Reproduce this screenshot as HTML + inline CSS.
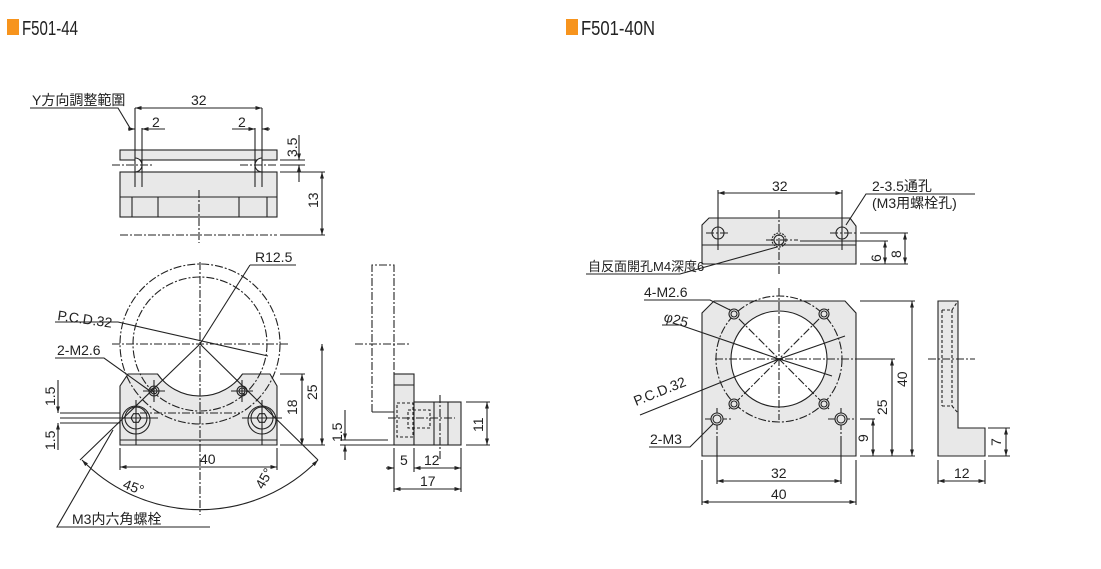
<!DOCTYPE html>
<html><head><meta charset="utf-8"><style>
html,body{margin:0;padding:0;background:#fff}
svg{display:block}
text{font-family:"Liberation Sans Narrow","Liberation Sans","Noto Sans CJK JP",sans-serif;fill:#222}
.t{font-size:14px}
</style></head><body>
<svg width="1101" height="569" viewBox="0 0 1101 569" xmlns="http://www.w3.org/2000/svg">
<defs><marker id="a" viewBox="0 0 10 10" refX="10" refY="5" markerWidth="6" markerHeight="6" orient="auto-start-reverse"><path d="M0,2L10,5L0,8z" fill="#222"/></marker></defs>
<rect x="7" y="19" width="12" height="16" fill="#f7941d"/>
<text x="22" y="35" font-size="20" textLength="56" lengthAdjust="spacingAndGlyphs">F501-44</text>
<rect x="566" y="19" width="12" height="16" fill="#f7941d"/>
<text x="581" y="35" font-size="20" textLength="74" lengthAdjust="spacingAndGlyphs">F501-40N</text>

<g stroke="#222" stroke-width="1.1" fill="none">
<!-- LEFT TOP VIEW -->
<rect x="120" y="150" width="157" height="10" fill="#e8e8e8"/>
<rect x="120" y="172" width="157" height="45" fill="#e8e8e8"/>
<line x1="120" y1="197" x2="277" y2="197"/>
<line x1="132" y1="197" x2="132" y2="217"/><line x1="158" y1="197" x2="158" y2="217"/>
<line x1="239" y1="197" x2="239" y2="217"/><line x1="267" y1="197" x2="267" y2="217"/>
<path d="M135,158 A7,7 0 0 1 135,172" fill="#fff"/>
<path d="M262,158 A7,7 0 0 0 262,172" fill="#fff"/>
<g stroke-dasharray="8,2,2,2">
<line x1="112" y1="165" x2="153" y2="165"/><line x1="240" y1="165" x2="278" y2="165"/>
<line x1="199" y1="190" x2="199" y2="243"/>
<line x1="120" y1="235" x2="277" y2="235"/>
</g>
<line x1="135" y1="108" x2="135" y2="187"/><line x1="142" y1="128" x2="142" y2="187"/>
<line x1="255" y1="128" x2="255" y2="187"/><line x1="262" y1="108" x2="262" y2="187"/>
<line x1="135" y1="108" x2="262" y2="108" marker-start="url(#a)" marker-end="url(#a)"/>
<line x1="128" y1="129" x2="135" y2="129" marker-end="url(#a)"/><line x1="165" y1="129" x2="142" y2="129" marker-end="url(#a)"/>
<line x1="232" y1="129" x2="255" y2="129" marker-end="url(#a)"/><line x1="270" y1="129" x2="262" y2="129" marker-end="url(#a)"/>
<polyline points="30,108 118,108 130,128"/>
<line x1="280" y1="160" x2="305" y2="160"/><line x1="280" y1="165" x2="305" y2="165"/><line x1="280" y1="172" x2="325" y2="172"/><line x1="280" y1="235" x2="325" y2="235"/>
<line x1="299" y1="135" x2="299" y2="160" marker-end="url(#a)"/><line x1="299" y1="182" x2="299" y2="165" marker-end="url(#a)"/>
<line x1="322" y1="172" x2="322" y2="235" marker-start="url(#a)" marker-end="url(#a)"/>

<!-- LEFT FRONT VIEW -->
<path d="M128,374 L157.5,374 A52,52 0 0 0 242.5,374 L270,374 L277,386 L277,445 L120,445 L120,386 Z" fill="#e8e8e8"/>
<line x1="120" y1="440" x2="277" y2="440"/>
<g stroke-dasharray="8,2,2,2">
<circle cx="200" cy="344" r="80"/><circle cx="200" cy="344" r="67"/>
<line x1="112" y1="344" x2="290" y2="344"/><line x1="200" y1="262" x2="200" y2="515"/>
<line x1="140" y1="413" x2="240" y2="413"/>
</g>
<circle cx="154" cy="391" r="5"/><circle cx="154" cy="391" r="3"/>
<circle cx="242" cy="391" r="5"/><circle cx="242" cy="391" r="3"/>
<line x1="143" y1="391" x2="165" y2="391"/><line x1="154" y1="380" x2="154" y2="402"/>
<line x1="231" y1="391" x2="253" y2="391"/><line x1="242" y1="380" x2="242" y2="402"/>
<circle cx="136" cy="418" r="11"/><circle cx="136" cy="420" r="14"/><polygon points="141,418 138.5,422.3 133.5,422.3 131,418 133.5,413.7 138.5,413.7"/>
<circle cx="262" cy="418" r="11"/><circle cx="262" cy="420" r="14"/><polygon points="267,418 264.5,422.3 259.5,422.3 257,418 259.5,413.7 264.5,413.7"/>
<line x1="116" y1="418" x2="158" y2="418"/><line x1="136" y1="400" x2="136" y2="445"/>
<line x1="242" y1="418" x2="282" y2="418"/><line x1="262" y1="400" x2="262" y2="445"/>
<line x1="200" y1="344" x2="80" y2="460"/><line x1="200" y1="344" x2="318" y2="460"/>
<line x1="200" y1="344" x2="250" y2="265"/><line x1="250" y1="265" x2="296" y2="265"/>
<polyline points="55,322 118,322 268,356"/>
<polyline points="55,358 104,358 150,391"/>
<path d="M82,460 A165,165 0 0 0 318,460" marker-start="url(#a)" marker-end="url(#a)"/>
<polyline points="210,527 57,527 113,430"/>
<line x1="60" y1="413" x2="120" y2="413"/><line x1="60" y1="418" x2="120" y2="418"/><line x1="60" y1="423" x2="120" y2="423"/>
<line x1="58" y1="380" x2="58" y2="413" marker-end="url(#a)"/><line x1="58" y1="450" x2="58" y2="423" marker-end="url(#a)"/>
<line x1="280" y1="374" x2="305" y2="374"/><line x1="280" y1="445" x2="325" y2="445"/>
<line x1="302" y1="374" x2="302" y2="445" marker-start="url(#a)" marker-end="url(#a)"/>
<line x1="322" y1="344" x2="322" y2="445" marker-start="url(#a)" marker-end="url(#a)"/>
<line x1="120" y1="448" x2="120" y2="470"/><line x1="277" y1="448" x2="277" y2="470"/>
<line x1="120" y1="467" x2="277" y2="467" marker-start="url(#a)" marker-end="url(#a)"/>

<!-- SIDE VIEW -->
<path d="M372,412 L372,265 L394,265 L394,374" stroke-dasharray="8,2,2,2"/>
<line x1="372" y1="412" x2="394" y2="412"/>
<rect x="394" y="374" width="20" height="71" fill="#e8e8e8"/>
<line x1="394" y1="385" x2="414" y2="385"/>
<rect x="414" y="402" width="47" height="43" fill="#e8e8e8"/>
<line x1="434" y1="402" x2="434" y2="445"/><line x1="448" y1="402" x2="448" y2="445"/>
<g stroke-dasharray="3,2"><rect x="397" y="403" width="16" height="34"/><rect x="408" y="410" width="22" height="18"/></g>
<g stroke-dasharray="8,2,2,2"><line x1="355" y1="344" x2="410" y2="344"/><line x1="388" y1="418" x2="455" y2="418"/><line x1="440" y1="395" x2="440" y2="460"/></g>
<line x1="340" y1="440" x2="388" y2="440"/><line x1="340" y1="445" x2="394" y2="445"/>
<line x1="345" y1="410" x2="345" y2="440" marker-end="url(#a)"/><line x1="345" y1="460" x2="345" y2="445" marker-end="url(#a)"/>
<line x1="466" y1="402" x2="490" y2="402"/><line x1="466" y1="445" x2="490" y2="445"/>
<line x1="487" y1="402" x2="487" y2="445" marker-start="url(#a)" marker-end="url(#a)"/>
<line x1="394" y1="448" x2="394" y2="492"/><line x1="414" y1="448" x2="414" y2="472"/><line x1="461" y1="448" x2="461" y2="492"/>
<line x1="386" y1="468" x2="394" y2="468" marker-end="url(#a)"/><line x1="414" y1="468" x2="461" y2="468" marker-start="url(#a)" marker-end="url(#a)"/>
<line x1="394" y1="489" x2="461" y2="489" marker-start="url(#a)" marker-end="url(#a)"/>

<!-- RIGHT TOP VIEW -->
<path d="M709,218 L850,218 L856,226 L856,264 L702,264 L702,225 Z" fill="#e8e8e8"/>
<line x1="702" y1="245" x2="856" y2="245"/>
<circle cx="718" cy="233" r="6"/><circle cx="842" cy="233" r="6"/>
<circle cx="779" cy="240" r="7" stroke-dasharray="2,1"/><circle cx="779" cy="240" r="5"/>
<g stroke-dasharray="8,2,2,2"><line x1="779" y1="210" x2="779" y2="275"/><line x1="706" y1="233" x2="730" y2="233"/><line x1="830" y1="233" x2="856" y2="233"/><line x1="766" y1="240" x2="798" y2="240"/></g>
<line x1="718" y1="190" x2="718" y2="250"/><line x1="842" y1="190" x2="842" y2="250"/>
<line x1="718" y1="193" x2="842" y2="193" marker-start="url(#a)" marker-end="url(#a)"/>
<polyline points="975,194 866,194 846,225"/>
<polyline points="586,274 680,274 777,247"/>
<line x1="800" y1="241" x2="888" y2="241"/><line x1="860" y1="233" x2="908" y2="233"/><line x1="860" y1="264" x2="908" y2="264"/>
<line x1="885" y1="241" x2="885" y2="264" marker-start="url(#a)" marker-end="url(#a)"/>
<line x1="905" y1="233" x2="905" y2="264" marker-start="url(#a)" marker-end="url(#a)"/>

<!-- RIGHT FRONT VIEW -->
<path d="M714,301 L845,301 L856,313 L856,456 L702,456 L702,313 Z" fill="#e8e8e8"/>
<circle cx="779" cy="359" r="48" fill="#fff"/>
<g stroke-dasharray="8,2,2,2">
<circle cx="779" cy="359" r="63"/>
<line x1="779" y1="288" x2="779" y2="420"/><line x1="715" y1="359" x2="860" y2="359"/>
<line x1="729" y1="309" x2="829" y2="409"/><line x1="829" y1="309" x2="729" y2="409"/>
<line x1="705" y1="419" x2="732" y2="419"/><line x1="828" y1="419" x2="855" y2="419"/><line x1="717" y1="408" x2="717" y2="440"/><line x1="841" y1="408" x2="841" y2="440"/>
</g>
<g fill="#e8e8e8"><circle cx="734" cy="314" r="5"/><circle cx="824" cy="314" r="5"/><circle cx="734" cy="404" r="5"/><circle cx="824" cy="404" r="5"/><circle cx="717" cy="419" r="6"/><circle cx="841" cy="419" r="6"/></g>
<circle cx="734" cy="314" r="3"/><circle cx="824" cy="314" r="3"/><circle cx="734" cy="404" r="3"/><circle cx="824" cy="404" r="3"/><circle cx="717" cy="419" r="4"/><circle cx="841" cy="419" r="4"/>
<polyline points="644,300 710,300 730,310"/>
<polyline points="662,325 680,325 779,359 845,336"/>
<polyline points="640,415 779,359 832,376"/>
<polyline points="649,447 690,447 713,424"/>
<line x1="860" y1="301" x2="915" y2="301"/><line x1="860" y1="359" x2="895" y2="359"/><line x1="860" y1="419" x2="875" y2="419"/><line x1="860" y1="456" x2="915" y2="456"/>
<line x1="912" y1="301" x2="912" y2="456" marker-start="url(#a)" marker-end="url(#a)"/>
<line x1="892" y1="359" x2="892" y2="456" marker-start="url(#a)" marker-end="url(#a)"/>
<line x1="873" y1="419" x2="873" y2="456" marker-start="url(#a)" marker-end="url(#a)"/>
<line x1="702" y1="460" x2="702" y2="505"/><line x1="856" y1="460" x2="856" y2="505"/>
<line x1="717" y1="440" x2="717" y2="484"/><line x1="841" y1="440" x2="841" y2="484"/>
<line x1="717" y1="481" x2="841" y2="481" marker-start="url(#a)" marker-end="url(#a)"/>
<line x1="702" y1="502" x2="856" y2="502" marker-start="url(#a)" marker-end="url(#a)"/>

<!-- RIGHT SIDE VIEW -->
<path d="M938,301 L958,301 L958,428 L985,428 L985,456 L938,456 Z" fill="#e8e8e8"/>
<g stroke-dasharray="3,2"><line x1="942" y1="310" x2="942" y2="406"/><line x1="952" y1="310" x2="952" y2="406"/><path d="M942,310 L952,310 L958,301"/><path d="M942,406 L952,406 L958,413"/></g>
<line x1="928" y1="359" x2="975" y2="359" stroke-dasharray="8,2,2,2"/>
<line x1="988" y1="428" x2="1010" y2="428"/><line x1="988" y1="456" x2="1010" y2="456"/>
<line x1="1006" y1="428" x2="1006" y2="456" marker-start="url(#a)" marker-end="url(#a)"/>
<line x1="938" y1="460" x2="938" y2="484"/><line x1="985" y1="460" x2="985" y2="484"/>
<line x1="938" y1="481" x2="985" y2="481" marker-start="url(#a)" marker-end="url(#a)"/>
</g>

<g class="t">
<text x="32" y="105">Y方向調整範圍</text>
<text x="191" y="105">32</text>
<text x="152" y="127">2</text><text x="238" y="127">2</text>
<text x="297" y="157" transform="rotate(-90 297 157)">3.5</text>
<text x="318" y="208" transform="rotate(-90 318 208)">13</text>
<text x="255" y="262">R12.5</text>
<text x="57" y="320" transform="rotate(8 57 320)">P.C.D.32</text>
<text x="57" y="355">2-M2.6</text>
<text x="55" y="406" transform="rotate(-90 55 406)">1.5</text>
<text x="55" y="450" transform="rotate(-90 55 450)">1.5</text>
<text x="297" y="415" transform="rotate(-90 297 415)">18</text>
<text x="317" y="400" transform="rotate(-90 317 400)">25</text>
<text x="200" y="464">40</text>
<text x="122" y="488" transform="rotate(20 122 488)">45°</text>
<text x="263" y="490" transform="rotate(-60 263 490)">45°</text>
<text x="72" y="524">M3内六角螺栓</text>
<text x="342" y="442" transform="rotate(-90 342 442)">1.5</text>
<text x="483" y="432" transform="rotate(-90 483 432)">11</text>
<text x="400" y="465">5</text><text x="424" y="465">12</text><text x="420" y="486">17</text>
<text x="772" y="191">32</text>
<text x="872" y="191">2-3.5通孔</text>
<text x="872" y="208">(M3用螺栓孔)</text>
<text x="588" y="271" font-size="13">自反面開孔M4深度6</text>
<text x="881" y="262" transform="rotate(-90 881 262)">6</text>
<text x="901" y="258" transform="rotate(-90 901 258)">8</text>
<text x="644" y="297">4-M2.6</text>
<text x="663" y="321" transform="rotate(15 663 321)">φ25</text>
<text x="636" y="406" transform="rotate(-22 636 406)">P.C.D.32</text>
<text x="650" y="444">2-M3</text>
<text x="907" y="387" transform="rotate(-90 907 387)">40</text>
<text x="887" y="415" transform="rotate(-90 887 415)">25</text>
<text x="868" y="442" transform="rotate(-90 868 442)">9</text>
<text x="1001" y="446" transform="rotate(-90 1001 446)">7</text>
<text x="771" y="478">32</text><text x="771" y="499">40</text>
<text x="954" y="478">12</text>
</g>
</svg>
</body></html>
